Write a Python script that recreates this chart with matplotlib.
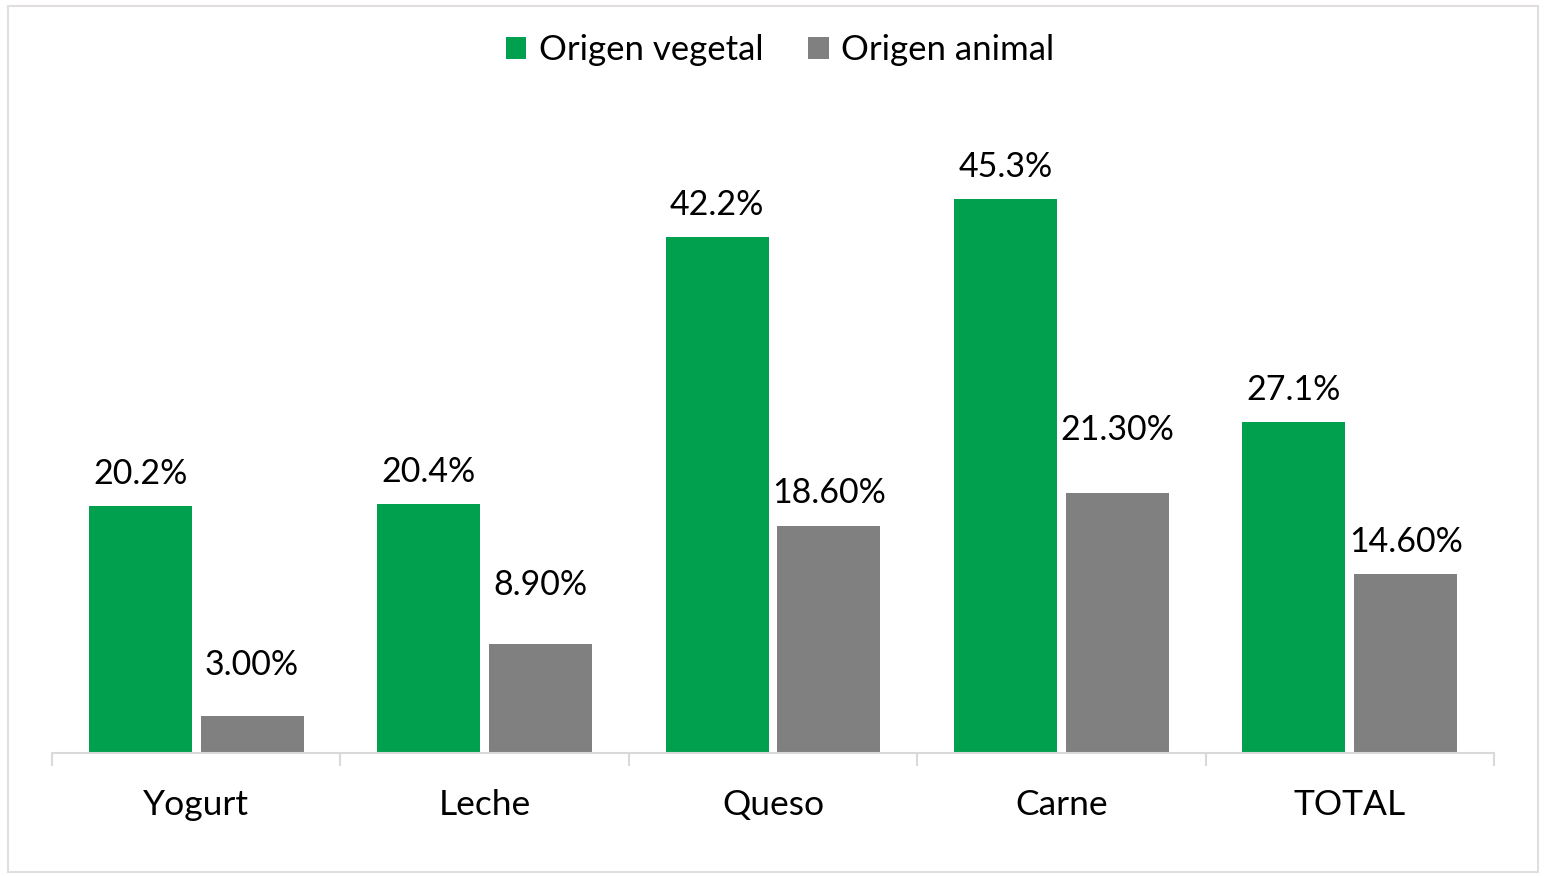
import matplotlib
matplotlib.use("Agg")
import matplotlib.pyplot as plt
from matplotlib.patches import Rectangle, Patch
import numpy as np

categories = ["Yogurt", "Leche", "Queso", "Carne", "TOTAL"]
vegetal = [20.2, 20.4, 42.2, 45.3, 27.1]
animal = [3.00, 8.90, 18.60, 21.30, 14.60]
series_names = ["Origen vegetal", "Origen animal"]

# layout: gap (px) between label baseline and bar top, as placed in the original
vegetal_label_gap_px = [22, 22, 22, 22, 22]
animal_label_gap_px = [41, 49, 23, 53, 22]

GREEN = "#00A04F"
GRAY = "#808080"
AXIS = "#D9D9D9"

plt.rcParams['font.family'] = ['Lato', 'DejaVu Sans']

W, H = 1544, 876
fig = plt.figure(figsize=(W / 100, H / 100), dpi=100)

left_px, right_px, base_px = 52, 1494, 753
ymax = 50
ppu = 12.23
top_px = base_px - ymax * ppu
ax = fig.add_axes([left_px / W, 1 - base_px / H, (right_px - left_px) / W, (base_px - top_px) / H])

x = np.arange(len(categories))
bw = 0.357
off = 0.194
ax.bar(x - off, vegetal, bw, color=GREEN, label=series_names[0])
ax.bar(x + off, animal, bw, color=GRAY, label=series_names[1])

LBL = 24.5
for xi, v, g in zip(x, vegetal, vegetal_label_gap_px):
    ax.annotate(f"{v:.1f}%", (xi - off, v), xytext=(0, g * 0.72), textcoords="offset points",
                ha="center", va="baseline", fontsize=LBL)
for xi, v, g in zip(x, animal, animal_label_gap_px):
    ax.annotate(f"{v:.2f}%", (xi + off, v), xytext=(0, g * 0.72), textcoords="offset points",
                ha="center", va="baseline", fontsize=LBL)

ax.set_xlim(-0.5, len(categories) - 0.5)
ax.set_ylim(0, ymax)
ax.set_yticks([])
for s in ["top", "left", "right"]:
    ax.spines[s].set_visible(False)
ax.spines["bottom"].set_color(AXIS)
ax.spines["bottom"].set_linewidth(1.5)

ax.set_xticks(x)
ax.set_xticklabels(categories, fontsize=25.5)
ax.tick_params(axis="x", which="major", length=0, pad=26)
ax.set_xticks(np.arange(-0.5, len(categories)), minor=True)
ax.tick_params(axis="x", which="minor", length=9, width=1.5, color=AXIS, direction="out")

handles = [Patch(facecolor=GREEN), Patch(facecolor=GRAY)]
fig.legend(handles, series_names, loc="center", bbox_to_anchor=(780 / W, 1 - 50 / H),
           ncol=2, frameon=False, fontsize=25, handlelength=0.6, handleheight=0.6,
           handletextpad=0.35, columnspacing=1.3)

fig.add_artist(Rectangle((8 / W, 1 - 872 / H), (1538 - 8) / W, (872 - 6) / H,
                         transform=fig.transFigure, fill=False, edgecolor="#E3DEDE", linewidth=1.5))

fig.savefig("out.png", dpi=100)
